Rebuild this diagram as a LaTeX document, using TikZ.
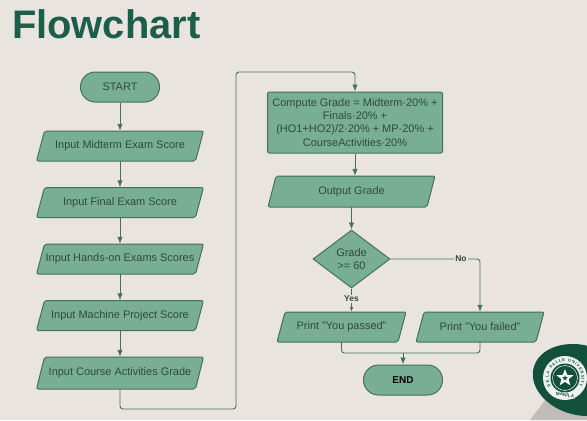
\documentclass[tikz,border=0pt]{standalone}
\usepackage{fontspec}
\setmainfont{Liberation Sans}
\usetikzlibrary{shapes.geometric,positioning,arrows.meta,calc,decorations.text}
\definecolor{bggray}{HTML}{EAE4E1}
\definecolor{boxgreen}{HTML}{78AE95}
\definecolor{edgegreen}{HTML}{43705D}
\definecolor{titlegreen}{HTML}{1B5E4A}
\definecolor{sealgreen}{HTML}{12503C}
\definecolor{textgray}{HTML}{2F4A40}
\tikzset{
  basebox/.style={draw=edgegreen, fill=boxgreen, line width=1pt, text=textgray, font=\fontsize{11}{13.2}\selectfont, align=center},
  ioshape/.style={draw=edgegreen, fill=boxgreen, line width=1pt, rounded corners=2pt},
  iotext/.style={text=textgray, font=\fontsize{11}{13.2}\selectfont, inner sep=0pt},
  termbox/.style={basebox, rounded corners=14.9bp, minimum width=79bp, minimum height=30bp, inner sep=0pt},
  procbox/.style={basebox, rounded corners=2pt, minimum width=175bp, minimum height=61bp, inner sep=0pt},
  decbox/.style={basebox, diamond, aspect=1.33, minimum width=77bp, minimum height=58bp, inner sep=0pt},
  flow/.style={draw=edgegreen, line width=0.9pt, -{Latex[length=7pt,width=5.5pt]}, rounded corners=3pt},
  flowlabel/.style={font=\fontsize{8.5}{9}\selectfont\bfseries, text=textgray, fill=bggray, inner sep=1pt}
}
% name, centre x, centre y, width, height, text
\newcommand{\iobox}[6]{%
  \draw[ioshape, shift={(#2,#3)}] ({-#4/2+8},{-#5/2}) -- ({#4/2},{-#5/2}) -- ({#4/2-8},{#5/2}) -- ({-#4/2},{#5/2}) -- cycle;
  \node[iotext, minimum width=#4bp, minimum height=#5bp] (#1) at (#2,#3) {#6};
}
\begin{document}
\begin{tikzpicture}[x=1bp, y=-1bp]
  % ==== BACKGROUND ====
  \fill[bggray] (0,0) rectangle (587,420);
  \useasboundingbox (0,0) rectangle (587,420);
  \node[font=\fontsize{40}{40}\selectfont\bfseries, text=titlegreen, anchor=west, inner sep=0pt] (title) at (12,24) {Flowchart};
  % ==== LEFT COLUMN ====
  \node[termbox] (start) at (120,87) {START};
  \iobox{midterm}{120}{146}{167}{30}{Input Midterm Exam Score}
  \iobox{final}{120}{202.5}{167}{30}{Input Final Exam Score}
  \iobox{hands}{120}{259}{167}{30}{Input Hands-on Exams Scores}
  \iobox{project}{120}{315.5}{167}{30}{Input Machine Project Score}
  \iobox{course}{120}{373}{167}{32}{Input Course Activities Grade}
  % ==== RIGHT COLUMN ====
  \node[procbox] (grade) at (355,122.5) {Compute Grade = Midterm·20\% +\\Finals·20\% +\\(HO1+HO2)/2·20\% + MP·20\% +\\CourseActivities·20\%};
  \iobox{output}{351.5}{191.5}{167}{31}{Output Grade}
  \node[decbox] (check) at (351.5,259) {Grade\\>= 60};
  \iobox{passed}{341.5}{327}{129}{30}{Print "You passed"}
  \iobox{failed}{480}{327}{128}{30}{Print "You failed"}
  \node[termbox, text=black, font=\fontsize{10}{12}\selectfont\bfseries] (end) at (403,380) {END};
  % ==== SEAL ====
  \fill[gray!40!bggray] (530,420) -- (545,400) -- (587,400) -- (587,420) -- cycle;
  \fill[sealgreen, rotate around={-15:(580,380)}] (580,380) ellipse (48 and 35);
  \fill[white!92!sealgreen] (565,378) circle (22);
  \path[decorate, decoration={text along path, text align=fit to path, text={|\fontsize{4}{5}\selectfont\bfseries\color{sealgreen}|DE LA SALLE UNIVERSITY}}]
    (565,378) ++(150:16.5) arc[start angle=150, end angle=390, radius=16.5];
  \fill[sealgreen] (565,378) circle (14.5);
  \draw[white, line width=0.5pt] (565,378) circle (12.5);
  \node[star, star points=5, star point ratio=2.4, fill=white, inner sep=0pt, minimum size=18bp] (star) at (565,378) {};
  \node[star, star points=5, star point ratio=2.4, fill=sealgreen, inner sep=0pt, minimum size=6bp] (starcore) at (565,378) {};
  \node[font=\fontsize{4.8}{5}\selectfont\bfseries, text=sealgreen, fill=white, inner sep=0.6pt, rotate=-8] (manila) at (565,395) {MANILA};
  % ==== ARROWS ====
  \draw[flow] (start) -- (midterm);
  \draw[flow] (midterm) -- (final);
  \draw[flow] (final) -- (hands);
  \draw[flow] (hands) -- (project);
  \draw[flow] (project) -- (course);
  \coordinate (loopa) at (120,409);
  \coordinate (loopb) at (236,409);
  \coordinate (loopc) at (236,72);
  \coordinate (loopd) at (355,72);
  \draw[flow] (course.south) -- (loopa) -- (loopb) -- (loopc) -- (loopd) -- (grade.north);
  \draw[flow] (grade.south) -- (grade.south |- output.north);
  \draw[flow] (output) -- (check);
  \draw[flow, -{Latex[length=5pt,width=4pt]}] (check.south) -- (check.south |- passed.north) node[flowlabel, pos=0.45] (yes) {Yes};
  \coordinate (noturn) at (480,259);
  \draw[flow] (check.east) -- (noturn) -- (failed.north);
  \node[flowlabel] (no) at (461,259) {No};
  \coordinate (joina) at (341.5,353);
  \coordinate (joinb) at (480,353);
  \coordinate (joinc) at (403,353);
  \draw[flow, -] (passed.south) -- (joina) -- (joinb) -- (failed.south);
  \draw[flow] (joinc) -- (end.north);
\end{tikzpicture}
\end{document}
